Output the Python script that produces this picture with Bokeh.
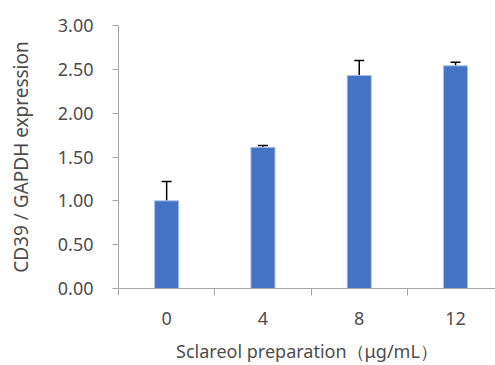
from bokeh.plotting import figure
from bokeh.models import Range1d, FixedTicker, Whisker, TeeHead, ColumnDataSource
from bokeh.embed import file_html
from bokeh.resources import INLINE

categories = ["0", "4", "8", "12"]
means = [1.00, 1.61, 2.43, 2.54]
errors = [0.22, 0.02, 0.17, 0.04]
y_ticks = [0.0, 0.5, 1.0, 1.5, 2.0, 2.5, 3.0]

xs = [i + 0.5 for i in range(len(categories))]
uppers = [m + e for m, e in zip(means, errors)]
src = ColumnDataSource(dict(x=xs, top=means, upper=uppers))

FONT = "Noto Sans"
TXT = "#4d4d4d"
AX = "#a6a6a6"

p = figure(width=495, height=365, output_backend="svg", toolbar_location=None,
           x_range=Range1d(0, 3.915), y_range=Range1d(0, 3.0),
           min_border_left=118, min_border_right=0, min_border_top=25, min_border_bottom=76)
p.outline_line_color = None
p.grid.visible = False
p.background_fill_color = "white"
p.border_fill_color = "white"

p.vbar(x="x", top="top", width=0.25, source=src, fill_color="#4472C4",
       line_color="#a9c0e8", line_width=1)

w = Whisker(base="x", lower="top", upper="upper", source=src, dimension="height",
            line_color="black", line_width=1.5,
            upper_head=TeeHead(size=10, line_color="black", line_width=1.5),
            lower_head=None)
p.add_layout(w)

# x axis
xa = p.xaxis[0]
xa.ticker = FixedTicker(ticks=xs, minor_ticks=[0, 1, 2, 3])
xa.major_label_overrides = {x: c for x, c in zip(xs, categories)}
xa.major_tick_out = 0
xa.major_tick_in = 0
xa.minor_tick_out = 7
xa.minor_tick_in = 0
xa.minor_tick_line_color = AX
xa.axis_line_color = AX
xa.axis_line_width = 1
xa.major_label_text_font = FONT
xa.major_label_text_font_size = "18px"
xa.major_label_text_color = TXT
xa.major_label_standoff = 16
xa.axis_label = "Sclareol preparation（μg/mL）"
xa.axis_label_text_font = FONT
xa.axis_label_text_font_size = "18px"
xa.axis_label_text_font_style = "normal"
xa.axis_label_text_color = TXT
xa.axis_label_standoff = 11

# y axis
ya = p.yaxis[0]
ya.ticker = FixedTicker(ticks=y_ticks, minor_ticks=[])
ya.major_label_overrides = {t: f"{t:.2f}" for t in y_ticks}
ya.major_tick_out = 6
ya.major_tick_in = 0
ya.major_tick_line_color = AX
ya.axis_line_color = AX
ya.major_label_text_font = FONT
ya.major_label_text_font_size = "18px"
ya.major_label_text_color = TXT
ya.major_label_standoff = 19
ya.axis_label = "CD39 / GAPDH expression"
ya.axis_label_text_font = FONT
ya.axis_label_text_font_size = "19px"
ya.axis_label_text_font_style = "normal"
ya.axis_label_text_color = TXT
ya.axis_label_standoff = 21

open("out.html", "w").write(file_html(p, INLINE))
